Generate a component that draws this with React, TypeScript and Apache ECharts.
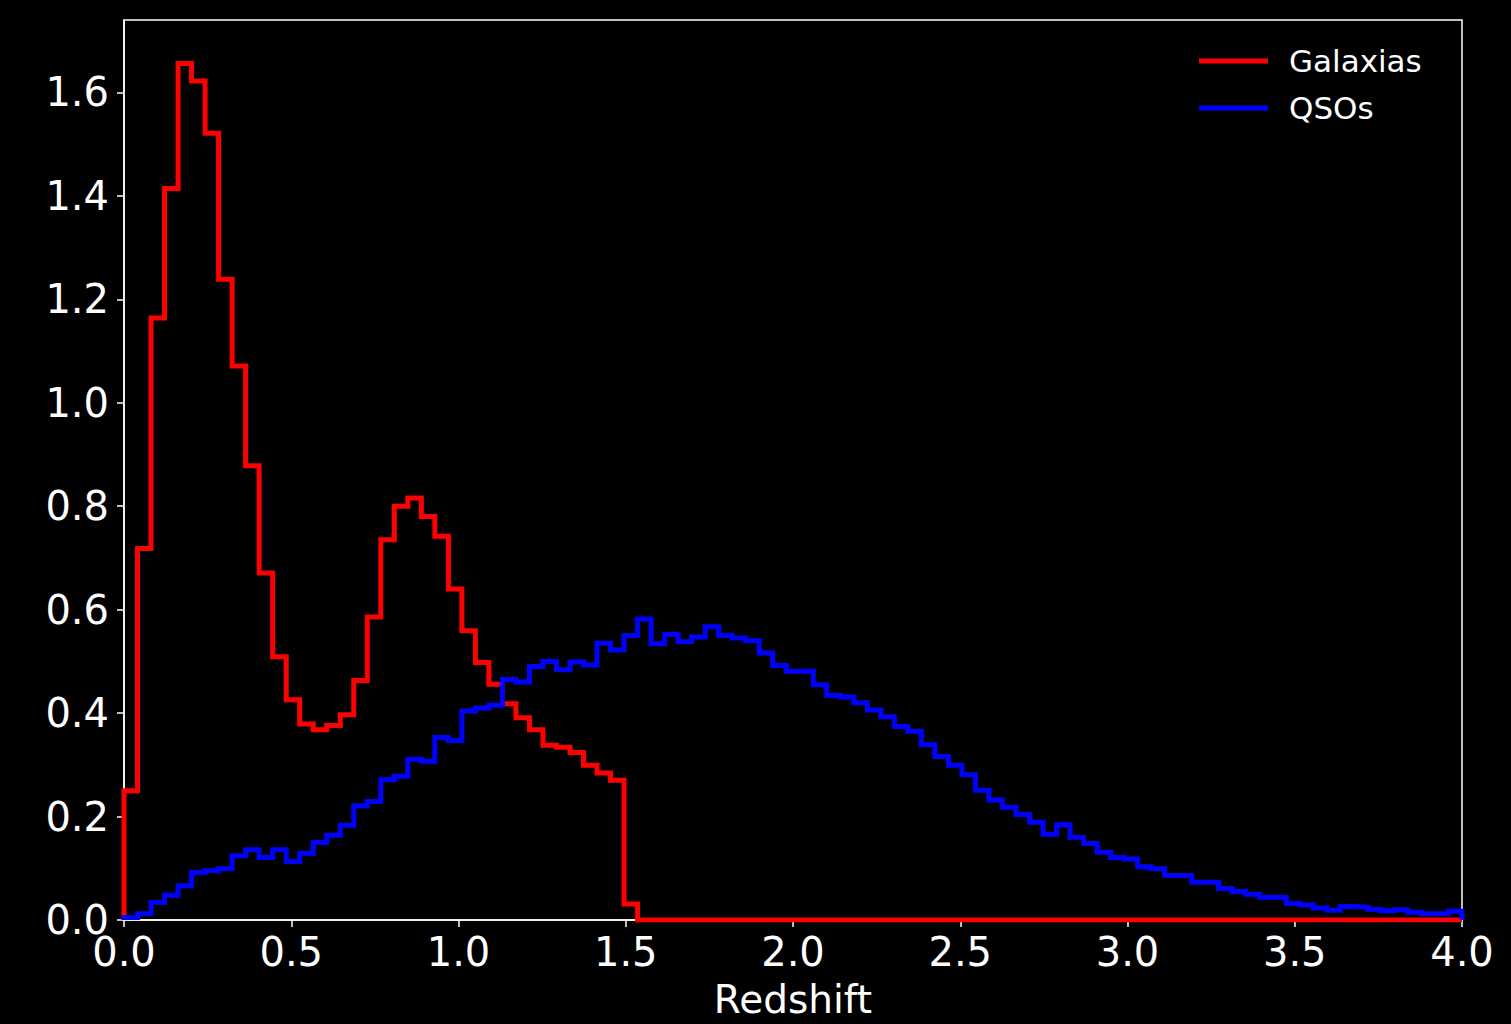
import React, { useEffect, useRef } from "react";
import * as echarts from "echarts";

// Histogram bins: np.linspace(0, 4, 100) -> 99 bins
const BIN_RANGE = [0, 4];
const BIN_COUNT = 99;

const galaxias = [
  0.250, 0.718, 1.164, 1.414, 1.656, 1.622, 1.521, 1.239, 1.071, 0.878,
  0.671, 0.509, 0.426, 0.379, 0.368, 0.376, 0.397, 0.463, 0.586, 0.735,
  0.800, 0.816, 0.780, 0.742, 0.640, 0.559, 0.498, 0.456, 0.418, 0.391,
  0.368, 0.338, 0.334, 0.324, 0.299, 0.284, 0.270, 0.031, 0, 0,
  0, 0, 0, 0, 0, 0, 0, 0, 0, 0,
  0, 0, 0, 0, 0, 0, 0, 0, 0, 0,
  0, 0, 0, 0, 0, 0, 0, 0, 0, 0,
  0, 0, 0, 0, 0, 0, 0, 0, 0, 0,
  0, 0, 0, 0, 0, 0, 0, 0, 0, 0,
  0, 0, 0, 0, 0, 0, 0, 0, 0,
];

const qsos = [
  0.005, 0.012, 0.034, 0.048, 0.066, 0.092, 0.095, 0.099, 0.124, 0.136,
  0.121, 0.136, 0.113, 0.129, 0.150, 0.164, 0.183, 0.221, 0.229, 0.271,
  0.278, 0.311, 0.307, 0.353, 0.347, 0.404, 0.410, 0.415, 0.465, 0.460,
  0.490, 0.500, 0.484, 0.499, 0.493, 0.535, 0.522, 0.550, 0.582, 0.534,
  0.552, 0.538, 0.547, 0.567, 0.550, 0.545, 0.540, 0.516, 0.492, 0.481,
  0.481, 0.455, 0.434, 0.431, 0.420, 0.406, 0.393, 0.374, 0.365, 0.339,
  0.316, 0.299, 0.281, 0.251, 0.232, 0.218, 0.204, 0.189, 0.166, 0.184,
  0.160, 0.148, 0.131, 0.121, 0.118, 0.103, 0.099, 0.086, 0.086, 0.073,
  0.073, 0.061, 0.055, 0.050, 0.044, 0.044, 0.032, 0.029, 0.023, 0.019,
  0.026, 0.025, 0.021, 0.018, 0.020, 0.015, 0.012, 0.012, 0.017,
];

const xTicks = [0, 0.5, 1, 1.5, 2, 2.5, 3, 3.5, 4];
const yTicks = [0, 0.2, 0.4, 0.6, 0.8, 1.0, 1.2, 1.4, 1.6];
const seriesNames = ["Galaxias", "QSOs"];
const seriesColors = ["#ff0000", "#0000ff"];

function stepPoints(values: number[]): number[][] {
  const w = (BIN_RANGE[1] - BIN_RANGE[0]) / BIN_COUNT;
  const pts: number[][] = [[BIN_RANGE[0], 0]];
  values.forEach((v, i) => pts.push([BIN_RANGE[0] + i * w, v]));
  pts.push([BIN_RANGE[1], values[values.length - 1]]);
  pts.push([BIN_RANGE[1], 0]);
  return pts;
}

const FONT = "DejaVu Sans";

export default function App() {
  const ref = useRef<HTMLDivElement>(null);
  useEffect(() => {
    if (!ref.current) return;
    const chart = echarts.init(ref.current, null, { renderer: "svg" });
    chart.setOption({
      animation: false,
      backgroundColor: "#000000",
      grid: {
        left: 124,
        top: 20,
        width: 1338,
        height: 900,
        containLabel: false,
        outerBoundsMode: "none",
        show: true,
        borderColor: "#ffffff",
        borderWidth: 1.5,
        backgroundColor: "transparent",
      },
      legend: {
        left: 1194,
        top: 37,
        orient: "vertical",
        icon: "rect",
        itemWidth: 69,
        itemHeight: 5,
        itemGap: 9,
        data: seriesNames,
        textStyle: {
          color: "#ffffff",
          fontFamily: FONT,
          fontSize: 31,
          lineHeight: 38,
          padding: [0, 0, 0, 16],
        },
      },
      xAxis: {
        type: "value",
        min: 0,
        max: 4,
        interval: 0.5,
        name: "Redshift",
        nameLocation: "middle",
        nameGap: 60,
        nameTextStyle: { color: "#ffffff", fontFamily: FONT, fontSize: 39 },
        axisLine: { show: true, onZero: false, lineStyle: { color: "#ffffff", width: 1.5 } },
        axisTick: { show: true, inside: false, length: 7, lineStyle: { color: "#ffffff", width: 1.5 }, customValues: xTicks },
        axisLabel: {
          color: "#ffffff",
          fontFamily: FONT,
          fontSize: 40,
          margin: 12,
          customValues: xTicks,
          formatter: (v: number) => v.toFixed(1),
        },
        splitLine: { show: false },
      },
      yAxis: {
        type: "value",
        min: 0,
        max: 1.74,
        axisLine: { show: true, onZero: false, lineStyle: { color: "#ffffff", width: 1.5 } },
        axisTick: { show: true, inside: false, length: 7, lineStyle: { color: "#ffffff", width: 1.5 }, customValues: yTicks },
        axisLabel: {
          color: "#ffffff",
          fontFamily: FONT,
          fontSize: 40,
          margin: 15,
          customValues: yTicks,
          formatter: (v: number) => v.toFixed(1),
        },
        splitLine: { show: false },
      },
      series: [galaxias, qsos].map((vals, i) => ({
        name: seriesNames[i],
        type: "line",
        step: "end",
        data: stepPoints(vals),
        showSymbol: false,
        symbol: "none",
        clip: true,
        color: seriesColors[i],
        lineStyle: { color: seriesColors[i], width: 5, join: "miter" },
        z: 2 + i,
      })),
    });
    return () => chart.dispose();
  }, []);
  return (
    <div
      ref={ref}
      style={{ position: "fixed", left: 0, top: 0, width: 1511, height: 1024, background: "#000" }}
    />
  );
}
